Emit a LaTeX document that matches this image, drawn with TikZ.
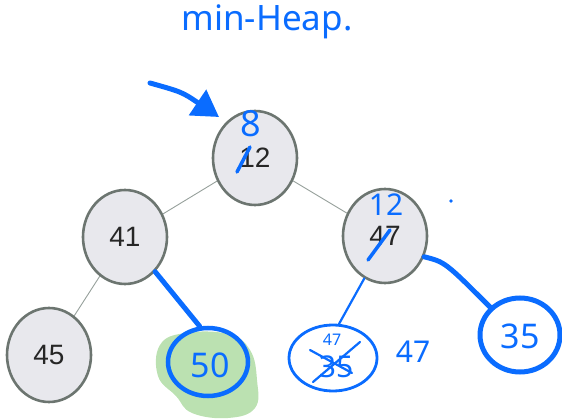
\documentclass[tikz,border=0pt]{standalone}
\usepackage{fontspec}
\setmainfont{Liberation Sans}
\newfontfamily\handfont{Noto Sans}
\usetikzlibrary{shapes.geometric,arrows.meta}
\definecolor{ink}{RGB}{10,108,255}
\definecolor{nodefill}{RGB}{232,232,237}
\definecolor{nodeline}{RGB}{108,117,112}
\definecolor{edgegray}{RGB}{150,160,155}
\definecolor{marker}{RGB}{187,225,177}
\begin{document}
\begin{tikzpicture}[x=1pt,y=-1pt,
  heapnode/.style={ellipse, draw=nodeline, fill=nodefill, line width=2.6pt,
    minimum width=84pt, minimum height=94pt, inner sep=0pt,
    font=\fontsize{28}{28}\selectfont, text=black!85},
  treeedge/.style={edgegray, line width=0.9pt},
  pen/.style={ink, line width=4pt, line cap=round, line join=round},
  thinpen/.style={ink, line width=2.2pt, line cap=round, line join=round},
  penring/.style={ellipse, draw=ink, line width=4.5pt, inner sep=0pt},
  handtext/.style={text=ink, font=\handfont\fontsize{#1}{#1}\selectfont, inner sep=0pt},
  handtext/.default=34,
]
\useasboundingbox (0,0) rectangle (562,419);

% heap nodes
\node[heapnode] (n12) at (255,158) {12};
\node[heapnode] (n41) at (125,237) {41};
\node[heapnode] (n47) at (385,236) {47};
\node[heapnode] (n45) at (49,355) {45};

% tree edges
\draw[treeedge] (n12) -- (n41);
\draw[treeedge] (n12) -- (n47);
\draw[treeedge] (n41) -- (n45);

% highlighter blob behind the new leaf
\fill[marker] plot[smooth cycle, tension=0.7] coordinates {
  (160,345) (185,333) (228,334) (250,350) (257,380) (255,408)
  (228,418) (192,413) (176,396) (158,376)};

% title
\node[handtext=35] (title) at (267,22) {min-Heap.};

% pointer arrow onto the root
\coordinate (arrowtail) at (150,83);
\coordinate (arrowtip) at (219,117);
\draw[pen, line width=5pt, -{Triangle[length=26pt,width=30pt]}]
  (arrowtail) .. controls (182,92) .. (arrowtip);

% root: 12 replaced by 8
\node[handtext=36] (r8) at (251,124) {8};
\coordinate (s1a) at (237,172);
\coordinate (s1b) at (250,147);
\draw[pen, line width=3.5pt] (s1a) -- (s1b);

% right child: 47 replaced by 12
\node[handtext=30] (r12) at (386,205) {12};
\coordinate (s2a) at (368,260);
\coordinate (s2b) at (390,230);
\draw[pen, line width=3.5pt] (s2a) -- (s2b);

\coordinate (dot) at (451,201);
\fill[ink] (dot) circle (1.8pt);

% new leaf 50
\node[penring, minimum width=80pt, minimum height=68pt] (c50) at (208,362) {};
\node[handtext=34] (t50) at (210,365) {50};
\draw[pen, line width=5pt] (n41.-49) -- (c50.103);

% crossed-out leaf under 47
\node[ellipse, draw=ink, line width=2.8pt, inner sep=0pt,
      minimum width=88pt, minimum height=66pt] (c35x) at (333,358) {};
\node[handtext=30] (t35x) at (336,367) {35};
\node[handtext=16] (t47s) at (332,340) {47};
\coordinate (x1a) at (313,382);
\coordinate (x1b) at (360,342);
\coordinate (x2a) at (310,350);
\coordinate (x2b) at (352,373);
\draw[thinpen] (x1a) -- (x1b);
\draw[thinpen] (x2a) -- (x2b);
\draw[thinpen] (n47.-116) -- (c35x.80);
\node[handtext=30] (t47) at (413,352) {47};

% leaf 35
\node[penring, line width=5pt, minimum width=80pt, minimum height=74pt] (c35) at (520,335) {};
\node[handtext=34] (t35) at (520,336) {35};
\draw[pen, line width=5pt] (n47.-28) .. controls (445,262) .. (c35.137);
\end{tikzpicture}
\end{document}
